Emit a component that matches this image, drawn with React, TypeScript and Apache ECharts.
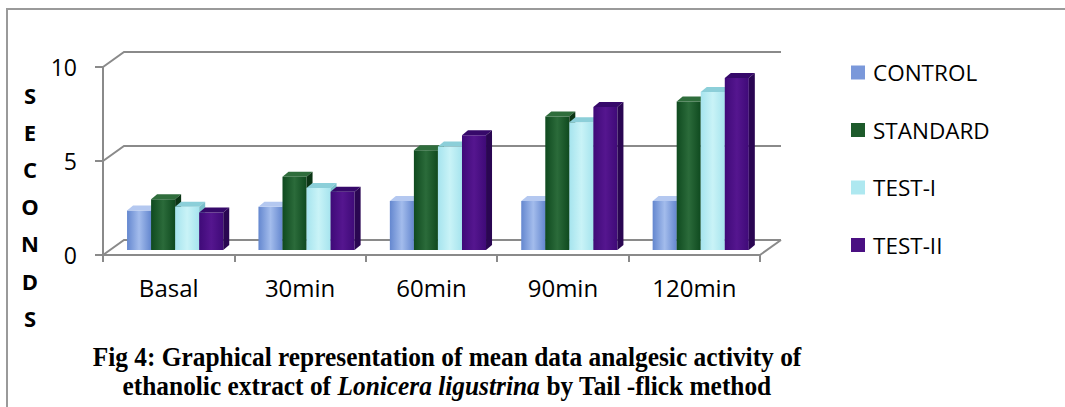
import React, { useEffect, useRef } from "react";
import * as echarts from "echarts";

const categories = ["Basal", "30min", "60min", "90min", "120min"];
const seriesNames = ["CONTROL", "STANDARD", "TEST-I", "TEST-II"];
const controlValues = [2.1, 2.3, 2.6, 2.6, 2.6];
const standardValues = [2.7, 3.9, 5.3, 7.1, 7.9];
const test1Values = [2.3, 3.3, 5.5, 6.8, 8.4];
const test2Values = [2.0, 3.1, 6.1, 7.6, 9.15];
const yTicks = [0, 5, 10];

const allValues = [controlValues, standardValues, test1Values, test2Values];

const faceColors = [
  { front: ["#6487cf", "#a3bcec"], top: "#b4c8f0", side: "#4f6cb0", legend: "#7a98da" },
  { front: ["#0f4a1f", "#2b6b3a"], top: "#2f6d3c", side: "#0b3515", legend: "#1d5a2b" },
  { front: ["#a6e4ee", "#c9f3f7"], top: "#8ccfd9", side: "#7cc0cb", legend: "#aee8f0" },
  { front: ["#3f0a78", "#55168f"], top: "#36096a", side: "#2a0652", legend: "#4a1082" },
];

const GRID_COLOR = "#8a8a8a";
const DEPTH_X = 21;
const DEPTH_Y = 15;

export default function App() {
  const ref = useRef<HTMLDivElement>(null);

  useEffect(() => {
    if (!ref.current) return;
    const chart = echarts.init(ref.current, undefined, { renderer: "svg" });

    const barSeries = seriesNames.map((name, si) => {
      const col = faceColors[si];
      return {
        name,
        type: "custom",
        z: 5,
        itemStyle: { color: col.legend },
        data: allValues[si].map((v, i) => [i, v]),
        renderItem: (params: any, api: any) => {
          const cat = api.value(0);
          const v = api.value(1);
          const top = api.coord([cat, v]);
          const base = api.coord([cat, 0]);
          const band = api.size([1, 0])[0];
          const barW = band * 0.183;
          const catLeft = top[0] - band / 2;
          const xl = catLeft + band * 0.183 + si * barW;
          const xr = xl + barW;
          const yt = top[1] - 5;
          const yb = base[1] - 5;
          const dx = 6;
          const dy = 5;
          return {
            type: "group",
            children: [
              {
                type: "rect",
                shape: { x: xl, y: yt, width: barW, height: yb - yt },
                style: {
                  fill: new echarts.graphic.LinearGradient(0, 0, 1, 0, [
                    { offset: 0, color: col.front[0] },
                    { offset: 0.5, color: col.front[1] },
                    { offset: 1, color: col.front[0] },
                  ]),
                },
              },
              {
                type: "polygon",
                shape: {
                  points: [
                    [xl, yt],
                    [xl + dx, yt - dy],
                    [xr + dx, yt - dy],
                    [xr, yt],
                  ],
                },
                style: { fill: col.top },
              },
              {
                type: "polygon",
                shape: {
                  points: [
                    [xr, yt],
                    [xr + dx, yt - dy],
                    [xr + dx, yb - dy],
                    [xr, yb],
                  ],
                },
                style: { fill: col.side },
              },
            ],
          };
        },
      };
    });

    const wallSeries = {
      name: "walls",
      type: "custom",
      silent: true,
      z: 1,
      data: [[0, 0]],
      renderItem: (params: any, api: any) => {
        const cs = params.coordSys;
        const x0 = cs.x;
        const x1 = cs.x + cs.width;
        const children: any[] = yTicks.map((t) => {
          const y = api.coord([0, t])[1];
          return {
            type: "polyline",
            shape: {
              points: [
                [x0, y],
                [x0 + DEPTH_X, y - DEPTH_Y],
                [x1 + DEPTH_X, y - DEPTH_Y],
              ],
            },
            style: { stroke: GRID_COLOR, lineWidth: 2, fill: null },
          };
        });
        const y0 = api.coord([0, 0])[1];
        children.push({
          type: "line",
          shape: { x1: x1, y1: y0, x2: x1 + DEPTH_X, y2: y0 - DEPTH_Y },
          style: { stroke: GRID_COLOR, lineWidth: 2 },
        });
        return { type: "group", children };
      },
    };

    const option: any = {
      animation: false,
      backgroundColor: "#ffffff",
      grid: { left: 103, top: 67, width: 657, height: 188, containLabel: false },
      legend: {
        data: seriesNames,
        orient: "vertical",
        left: 851,
        top: 61,
        itemWidth: 14,
        itemHeight: 14,
        itemGap: 34.5,
        icon: "rect",
        padding: 0,
        textStyle: {
          fontFamily: "Open Sans",
          fontSize: 22.5,
          color: "#000",
          padding: [0, 0, 0, 3],
        },
      },
      xAxis: {
        type: "category",
        data: categories,
        axisLine: { show: true, lineStyle: { color: GRID_COLOR, width: 2 } },
        axisTick: { show: true, length: 7, lineStyle: { color: GRID_COLOR, width: 2 } },
        axisLabel: {
          fontFamily: "Open Sans",
          fontSize: 24,
          color: "#000",
          margin: 20,
        },
        splitLine: { show: false },
      },
      yAxis: {
        type: "value",
        min: 0,
        max: 10,
        interval: 5,
        axisLine: { show: true, lineStyle: { color: GRID_COLOR, width: 2 } },
        axisTick: { show: true, length: 8, lineStyle: { color: GRID_COLOR, width: 2 } },
        axisLabel: {
          fontFamily: "Open Sans",
          fontSize: 23,
          color: "#000",
          margin: 26,
          padding: [4, 0, 0, 0],
        },
        splitLine: { show: false },
      },
      graphic: [
        {
          type: "polyline",
          shape: { points: [[7, 407], [7, 9], [1065, 9]] },
          style: { stroke: "#9a9a9a", lineWidth: 2, fill: null },
          z: 0,
        },
        {
          type: "text",
          x: 30,
          y: 76,
          style: {
            text: "S\nE\nC\nO\nN\nD\nS",
            font: 'bold 22px "Open Sans"',
            fill: "#000",
            textAlign: "center",
            textVerticalAlign: "top",
            lineHeight: 37.2,
          },
        },
        {
          type: "text",
          x: 447,
          y: 344,
          scaleX: 0.94,
          style: {
            text: "Fig 4: Graphical representation of mean data analgesic activity of",
            font: 'bold 27px "Liberation Serif"',
            fill: "#000",
            textAlign: "center",
            textVerticalAlign: "top",
          },
        },
        {
          type: "text",
          x: 447,
          y: 373,
          scaleX: 0.94,
          style: {
            text: "{b|ethanolic extract of }{i|Lonicera ligustrina}{b| by Tail -flick method}",
            textAlign: "center",
            textVerticalAlign: "top",
            rich: {
              b: { font: 'bold 27px "Liberation Serif"', fill: "#000" },
              i: { font: 'italic bold 27px "Liberation Serif"', fill: "#000" },
            },
          },
        },
      ],
      series: [wallSeries, ...barSeries],
    };

    chart.setOption(option);
    return () => chart.dispose();
  }, []);

  return (
    <div
      ref={ref}
      style={{
        position: "fixed",
        left: 0,
        top: 0,
        width: 1065,
        height: 407,
        background: "#fff",
      }}
    />
  );
}
